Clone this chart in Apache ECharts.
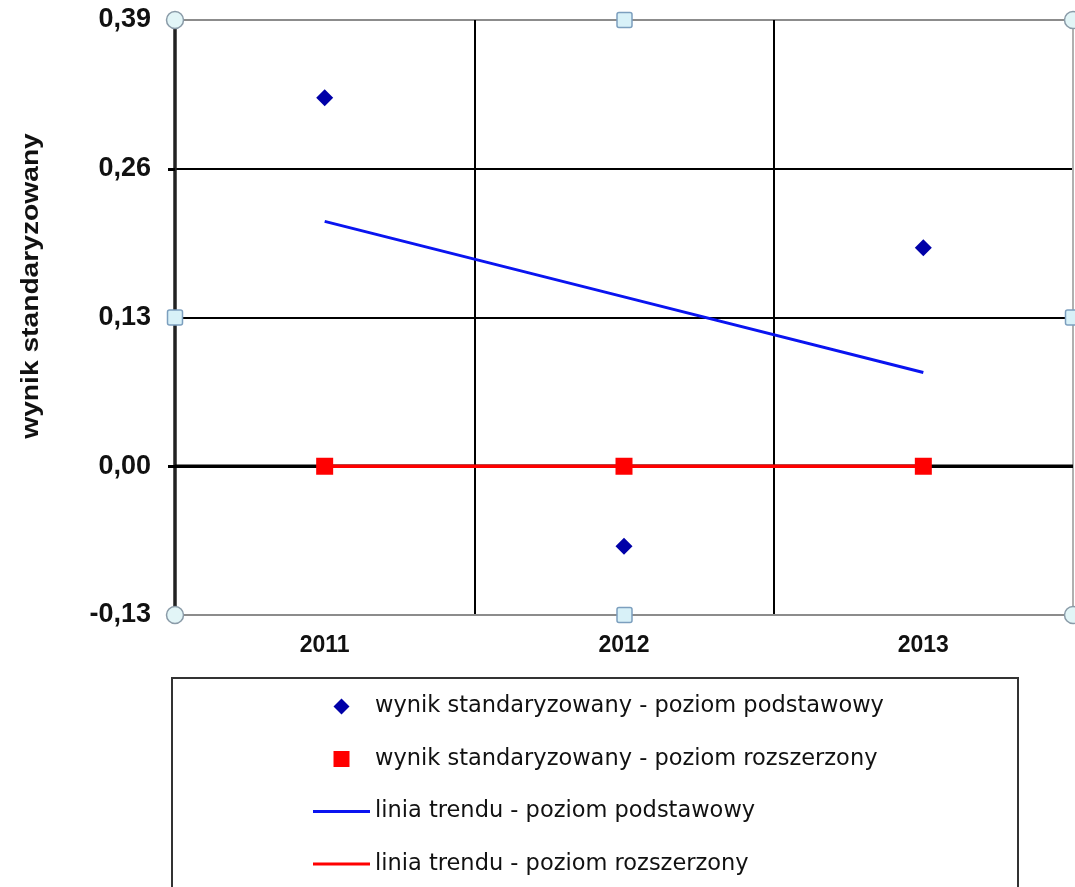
<!DOCTYPE html>
<html>
<head>
<meta charset="utf-8">
<script src="https://cdn.jsdelivr.net/npm/echarts@6/dist/echarts.min.js"></script>
<style>
  html, body { margin: 0; padding: 0; background: #ffffff; }
  #chart { width: 1075px; height: 887px; }
</style>
</head>
<body>
<div id="chart"></div>
<script>
// Categories (exam years) and standardised results
const categories = ['2011', '2012', '2013'];
const basicScores = [0.322, -0.070, 0.191];     // wynik standaryzowany - poziom podstawowy
const extendedScores = [0, 0, 0];               // wynik standaryzowany - poziom rozszerzony
const basicTrend = [0.214, 0.148, 0.082];       // linia trendu - poziom podstawowy
const extendedTrend = [0, 0, 0];                // linia trendu - poziom rozszerzony
const yTicks = [-0.13, 0, 0.13, 0.26, 0.39];
const seriesNames = [
  'wynik standaryzowany - poziom podstawowy',
  'wynik standaryzowany - poziom rozszerzony',
  'linia trendu - poziom podstawowy',
  'linia trendu - poziom rozszerzony'
];
const axisTitle = 'wynik standaryzowany';

const chart = echarts.init(document.getElementById('chart'), null, { renderer: 'canvas' });

const diamondIcon = 'path://M8,0L16,8L8,16L0,8Z';
const squareIcon = 'path://M0,0L16,0L16,16L0,16Z';
const lineIcon = 'path://M0,0L57,0L57,3L0,3Z';

const option = {
  animation: false,
  backgroundColor: '#ffffff',
  grid: { left: 175, right: 2, top: 20, bottom: 272, containLabel: false },
  xAxis: [
    {
      type: 'category',
      data: categories,
      boundaryGap: true,
      axisLine: { show: true, onZero: false, lineStyle: { color: '#8c8c8c', width: 2 } },
      axisTick: { show: false },
      axisLabel: {
        margin: 19,
        fontFamily: 'Liberation Sans, Arial, sans-serif',
        fontWeight: 'bold',
        fontSize: 23,
        color: '#111'
      },
      splitLine: {
        show: true,
        interval: 0,
        lineStyle: { color: ['#222222', '#000000', '#000000', '#b0b0b0'], width: 2 }
      }
    },
    {
      // helper axis spanning the full plot width, used by the zero line
      type: 'value',
      min: 0,
      max: 1,
      show: false
    }
  ],
  yAxis: {
    type: 'value',
    min: yTicks[0],
    max: yTicks[yTicks.length - 1],
    interval: 0.13,
    axisLine: { show: true, lineStyle: { color: '#222222', width: 3.5 } },
    axisTick: { show: true, length: 7, lineStyle: { color: '#000', width: 3 } },
    axisLabel: {
      margin: 24,
      fontFamily: 'Liberation Sans, Arial, sans-serif',
      fontWeight: 'bold',
      fontSize: 27,
      color: '#111',
      formatter: v => v.toFixed(2).replace('.', ',')
    },
    splitLine: {
      show: true,
      lineStyle: { color: ['#8c8c8c', '#000000', '#000000', '#000000', '#8c8c8c'], width: 2 }
    }
  },
  legend: {
    orient: 'vertical',
    left: 308,
    top: 690,
    padding: 5,
    itemWidth: 57,
    itemHeight: 16,
    itemGap: 29.5,
    symbolKeepAspect: true,
    textStyle: {
      fontFamily: 'DejaVu Sans, Verdana, sans-serif',
      fontSize: 22.5,
      color: '#111'
    },
    data: [
      { name: seriesNames[0], icon: diamondIcon },
      { name: seriesNames[1], icon: squareIcon },
      { name: seriesNames[2], icon: lineIcon },
      { name: seriesNames[3], icon: lineIcon }
    ]
  },
  series: [
    {
      // heavy zero reference line across the whole plot
      name: '_zero',
      type: 'line',
      xAxisIndex: 1,
      data: [[0, 0], [1, 0]],
      symbol: 'none',
      silent: true,
      z: 1,
      lineStyle: { color: '#000', width: 3.5 }
    },
    {
      name: seriesNames[2],
      type: 'line',
      data: basicTrend,
      showSymbol: false,
      symbol: 'none',
      z: 10,
      lineStyle: { color: '#0a14f0', width: 3 },
      itemStyle: { color: '#0a14f0' }
    },
    {
      name: seriesNames[3],
      type: 'line',
      data: extendedTrend,
      showSymbol: false,
      symbol: 'none',
      z: 10,
      lineStyle: { color: '#ff0000', width: 3.5 },
      itemStyle: { color: '#ff0000' }
    },
    {
      name: seriesNames[0],
      type: 'scatter',
      data: basicScores,
      symbol: 'diamond',
      symbolSize: 17,
      z: 12,
      itemStyle: { color: '#0000a8', opacity: 1 }
    },
    {
      name: seriesNames[1],
      type: 'scatter',
      data: extendedScores,
      symbol: 'rect',
      symbolSize: 17,
      z: 12,
      itemStyle: { color: '#ff0000', opacity: 1 }
    }
  ]
};

chart.setOption(option);

// Frame decorations: vertical axis title, legend box and selection handles
const rect = chart.getModel().getComponent('grid').coordinateSystem.getRect();
const x0 = rect.x, x1 = rect.x + rect.width - 1, xm = (x0 + x1) / 2 + 1;
const y0 = rect.y, y1 = rect.y + rect.height, ym = (y0 + y1) / 2;

const circleHandle = (cx, cy) => ({
  type: 'circle', shape: { cx, cy, r: 8.5 }, z: 100,
  style: { fill: '#e2f5f7', stroke: '#8a9ba8', lineWidth: 1.5 }
});
const squareHandle = (cx, cy) => ({
  type: 'rect', shape: { x: cx - 7.5, y: cy - 7.5, width: 15, height: 15, r: 2 }, z: 100,
  style: { fill: '#d8f1f8', stroke: '#7c9fbe', lineWidth: 1.5 }
});

chart.setOption({
  graphic: [
    {
      type: 'text',
      x: 32, y: 286,
      rotation: Math.PI / 2,
      scaleX: 1.2,
      style: {
        text: axisTitle,
        fontFamily: 'Liberation Sans, Arial, sans-serif',
        fontWeight: 'bold',
        fontSize: 23.5,
        fill: '#111',
        align: 'center',
        verticalAlign: 'middle'
      }
    },
    {
      type: 'rect',
      shape: { x: 172, y: 678, width: 846, height: 240 },
      style: { fill: 'none', stroke: '#333', lineWidth: 2 },
      z: 0
    },
    circleHandle(x0, y0), squareHandle(xm, y0), circleHandle(x1 + 1, y0),
    squareHandle(x0, ym), squareHandle(x1 + 1, ym),
    circleHandle(x0, y1), squareHandle(xm, y1), circleHandle(x1 + 1, y1)
  ]
});
</script>
</body>
</html>
